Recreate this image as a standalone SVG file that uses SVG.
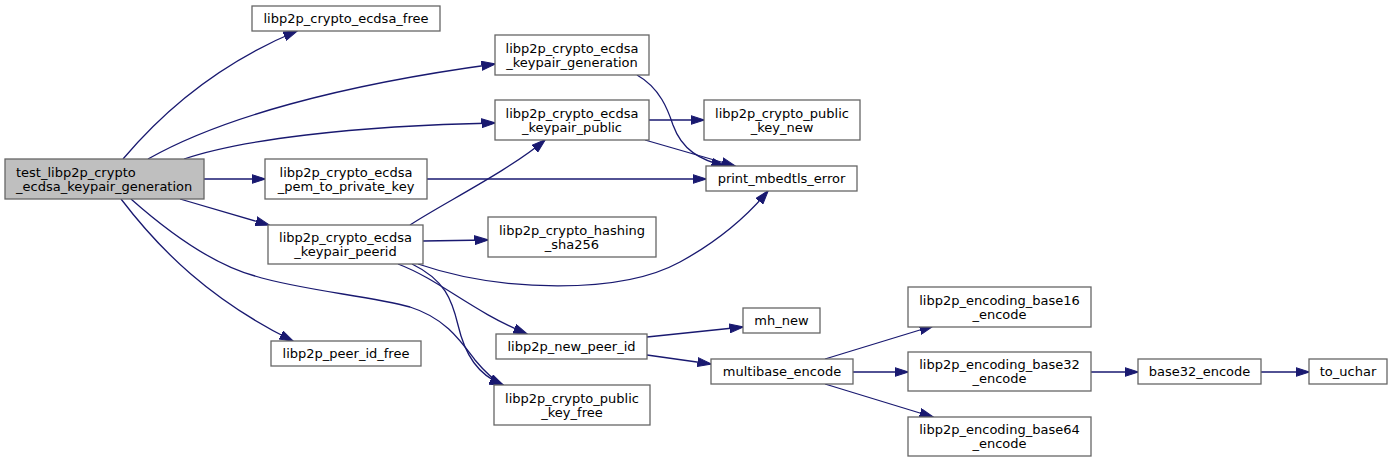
<svg xmlns="http://www.w3.org/2000/svg" width="1393" height="463" viewBox="0 0 1393 463">
<style>
.n rect{fill:#ffffff;stroke:#666666;stroke-width:1.3}
.n.root rect{fill:#bfbfbf}
.n text{font-family:"DejaVu Sans","Liberation Sans",sans-serif;font-size:13px;fill:#000000;text-anchor:middle}
.n.root text{text-anchor:start}
#edges path{fill:none;stroke:#191970;stroke-width:1.3;marker-end:url(#arr)}
</style>
<defs>
<marker id="arr" markerUnits="userSpaceOnUse" markerWidth="14" markerHeight="10" viewBox="0 0 14 10" refX="13.5" refY="5" orient="auto">
<path d="M0,0.5 L14,5 L0,9.5 z" fill="#191970" stroke="#191970" stroke-width="1"/>
</marker>
</defs>
<rect width="1393" height="463" fill="#ffffff"/>
<g id="edges">
<path d="M123,159 C160,115 215,65 297,31"/>
<path d="M148,159 C220,118 340,85 495,64"/>
<path d="M184,159 C240,140 350,126 495,123"/>
<path d="M204,179 L265,179"/>
<path d="M180,199 L269,225"/>
<path d="M121,199 C160,250 210,300 293,341"/>
<path d="M131,199 C175,238 215,265 255,276 C300,290 370,296 410,307 C445,318 460,340 475,360 C485,372 493,380 503,385"/>
<path d="M410,225 C440,205 510,170 545,140"/>
<path d="M423,241 L488,240"/>
<path d="M418,264 C500,292 620,295 680,262 C720,240 748,215 768,191"/>
<path d="M398,264 C440,280 470,310 527,334"/>
<path d="M412,264 C445,280 452,300 458,325 C465,355 478,375 503,385"/>
<path d="M637,75 C660,88 668,110 673,125 C682,150 700,160 725,166"/>
<path d="M649,120 L704,120"/>
<path d="M645,140 L735,166"/>
<path d="M427,179 L706,179"/>
<path d="M647,337 L743,327"/>
<path d="M647,355 L711,364"/>
<path d="M825,359 L933,326"/>
<path d="M853,372 L908,372"/>
<path d="M825,384 L933,417"/>
<path d="M1091,372 L1138,372"/>
<path d="M1261,372 L1309,372"/>
</g>
<g id="n_root" class="n root"><rect x="5" y="159" width="199" height="40"/><text x="16" y="176.5">test_libp2p_crypto</text><text x="16" y="190.5">_ecdsa_keypair_generation</text></g>
<g id="n_ecdsa_free" class="n"><rect x="252" y="6" width="188" height="25"/><text x="346" y="23">libp2p_crypto_ecdsa_free</text></g>
<g id="n_keypair_generation" class="n"><rect x="495" y="35" width="154" height="40"/><text x="572" y="52.5">libp2p_crypto_ecdsa</text><text x="572" y="66.5">_keypair_generation</text></g>
<g id="n_keypair_public" class="n"><rect x="495" y="100" width="154" height="40"/><text x="572" y="117.5">libp2p_crypto_ecdsa</text><text x="572" y="131.5">_keypair_public</text></g>
<g id="n_pem" class="n"><rect x="265" y="159" width="162" height="40"/><text x="346" y="176.5">libp2p_crypto_ecdsa</text><text x="346" y="190.5">_pem_to_private_key</text></g>
<g id="n_peerid" class="n"><rect x="268" y="225" width="155" height="39"/><text x="345.5" y="242">libp2p_crypto_ecdsa</text><text x="345.5" y="256">_keypair_peerid</text></g>
<g id="n_peer_id_free" class="n"><rect x="271" y="341" width="150" height="25"/><text x="346" y="358">libp2p_peer_id_free</text></g>
<g id="n_public_key_new" class="n"><rect x="704" y="100" width="156" height="40"/><text x="782" y="117.5">libp2p_crypto_public</text><text x="782" y="131.5">_key_new</text></g>
<g id="n_print_mbedtls_error" class="n"><rect x="706" y="166" width="151" height="25"/><text x="781.5" y="183">print_mbedtls_error</text></g>
<g id="n_hashing" class="n"><rect x="488" y="217" width="168" height="40"/><text x="572" y="234.5">libp2p_crypto_hashing</text><text x="572" y="248.5">_sha256</text></g>
<g id="n_new_peer_id" class="n"><rect x="496" y="334" width="151" height="25"/><text x="571.5" y="351">libp2p_new_peer_id</text></g>
<g id="n_public_key_free" class="n"><rect x="494" y="385" width="156" height="40"/><text x="572" y="402.5">libp2p_crypto_public</text><text x="572" y="416.5">_key_free</text></g>
<g id="n_mh_new" class="n"><rect x="743" y="308" width="77" height="25"/><text x="781.5" y="325">mh_new</text></g>
<g id="n_multibase" class="n"><rect x="711" y="359" width="142" height="25"/><text x="782" y="376">multibase_encode</text></g>
<g id="n_base16" class="n"><rect x="908" y="287" width="183" height="40"/><text x="999.5" y="304.5">libp2p_encoding_base16</text><text x="999.5" y="318.5">_encode</text></g>
<g id="n_base32" class="n"><rect x="908" y="352" width="183" height="39"/><text x="999.5" y="369">libp2p_encoding_base32</text><text x="999.5" y="383">_encode</text></g>
<g id="n_base64" class="n"><rect x="908" y="417" width="183" height="39"/><text x="999.5" y="434">libp2p_encoding_base64</text><text x="999.5" y="448">_encode</text></g>
<g id="n_base32_encode" class="n"><rect x="1138" y="359" width="123" height="25"/><text x="1199.5" y="376">base32_encode</text></g>
<g id="n_to_uchar" class="n"><rect x="1309" y="359" width="78" height="25"/><text x="1348" y="376">to_uchar</text></g>
</svg>
